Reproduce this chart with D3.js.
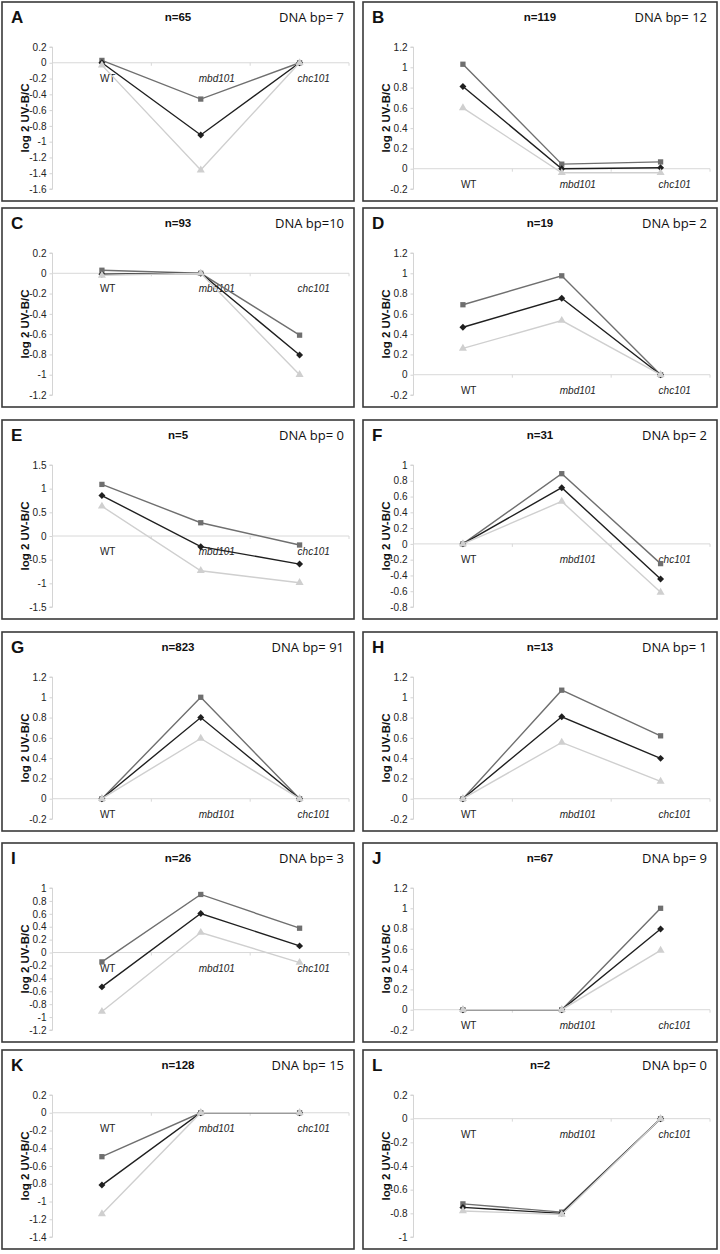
<!DOCTYPE html>
<html><head><meta charset="utf-8">
<script src="https://cdn.jsdelivr.net/npm/d3@7"></script>
<style>body{margin:0;background:#fff}svg{display:block}</style>
</head><body>
<script>
// ---- data ----
const panelLetters = ["A","B","C","D","E","F","G","H","I","J","K","L"];
const nLabels = ["n=65","n=119","n=93","n=19","n=5","n=31","n=823","n=13","n=26","n=67","n=128","n=2"];
const dnaLabels = ["DNA bp= 7","DNA bp= 12","DNA bp=10","DNA bp= 2","DNA bp= 0","DNA bp= 2","DNA bp= 91","DNA bp= 1","DNA bp= 3","DNA bp= 9","DNA bp= 15","DNA bp= 0"];
const categories = ["WT","mbd101","chc101"];
const yDomains = [[-1.6,0.2],[-0.2,1.2],[-1.2,0.2],[-0.2,1.2],[-1.5,1.5],[-0.8,1.0],[-0.2,1.2],[-0.2,1.2],[-1.2,1.0],[-0.2,1.2],[-1.4,0.2],[-1.0,0.2]];
const yStep = [0.2,0.2,0.2,0.2,0.5,0.2,0.2,0.2,0.2,0.2,0.2,0.2];
// series values per panel: [WT, mbd101, chc101]
const seriesSquare = [
  [0.03,-0.46,0.0],[1.03,0.045,0.067],[0.03,0.0,-0.61],[0.69,0.975,0.0],
  [1.09,0.28,-0.19],[0.0,0.89,-0.25],[0.0,1.0,0.0],[0.0,1.07,0.62],
  [-0.145,0.90,0.377],[0.0,0.0,1.0],[-0.495,0.0,0.0],[-0.72,-0.79,0.0]];
const seriesDiamond = [
  [0.0,-0.915,0.0],[0.81,0.0,0.01],[-0.01,0.0,-0.805],[0.468,0.754,0.0],
  [0.855,-0.226,-0.593],[0.0,0.712,-0.445],[0.0,0.80,0.0],[0.0,0.808,0.398],
  [-0.532,0.604,0.103],[0.0,0.0,0.796],[-0.815,0.0,0.0],[-0.75,-0.80,0.0]];
const seriesTriangle = [
  [-0.03,-1.36,0.0],[0.60,-0.04,-0.04],[-0.02,0.0,-1.0],[0.26,0.534,0.0],
  [0.628,-0.734,-0.988],[0.0,0.538,-0.614],[0.0,0.594,0.0],[0.0,0.555,0.171],
  [-0.914,0.31,-0.155],[0.0,0.0,0.585],[-1.14,0.0,0.0],[-0.78,-0.81,0.0]];

const seriesDefs = [
  {values: seriesSquare, color: "#6f6f6f", symbol: d3.symbolSquare, size: 28, rot: 0},
  {values: seriesDiamond, color: "#1f1f1f", symbol: d3.symbolSquare, size: 24, rot: 45},
  {values: seriesTriangle, color: "#cfcfcf", symbol: d3.symbolTriangle, size: 28, rot: 0}
];

// ---- layout ----
const W = 720, H = 1254;
const colX = [2, 363], colW = [352, 354];
const rowY = [2, 208, 420, 632, 843, 1050];
const panelH = 199;

const svg = d3.select("body").append("svg").attr("width", W).attr("height", H);
const FONT = "Liberation Sans, Arial, sans-serif";

panelLetters.forEach((letter, i) => {
  const col = i % 2, row = Math.floor(i / 2);
  const px = colX[col], py = rowY[row], pw = colW[col];
  const g = svg.append("g").attr("transform", `translate(${px},${py})`);
  g.append("rect").attr("x", 0).attr("y", 0).attr("width", pw).attr("height", panelH)
    .attr("fill", "#fff").attr("stroke", "#3a3a3a").attr("stroke-width", 1.6);

  g.append("text").attr("x", 9).attr("y", 21).attr("font-family", FONT)
    .attr("font-weight", "bold").attr("font-size", 17).attr("fill", "#111").text(letter);
  g.append("text").attr("x", pw / 2).attr("y", 19).attr("text-anchor", "middle")
    .attr("font-family", FONT).attr("font-weight", "bold").attr("font-size", 11.5).attr("fill", "#111").text(nLabels[i]);
  g.append("text").attr("x", pw - 10).attr("y", 20).attr("text-anchor", "end")
    .attr("font-family", "Open Sans, sans-serif").attr("font-size", 13).attr("fill", "#111").text(dnaLabels[i]);

  const left = 50.5, right = 347;
  const top = 45, bottom = 187;
  const x = d3.scalePoint().domain(categories).range([left, right]).padding(0.5);
  const step = x.step();
  const dom = yDomains[i];
  const y = d3.scaleLinear().domain(dom).range([bottom, top]);

  // y axis
  const nT = Math.round((dom[1] - dom[0]) / yStep[i]);
  const ticks = d3.range(nT + 1).map(k => +(dom[0] + k * yStep[i]).toFixed(2));
  const yAxis = d3.axisLeft(y).tickValues(ticks).tickSize(3).tickPadding(3)
    .tickFormat(v => String(+v.toFixed(1)));
  const ya = g.append("g").attr("transform", `translate(${left},0)`).call(yAxis);
  ya.select(".domain").attr("stroke", "#d4d4d4").attr("d", `M-3,${y(dom[1])}H0V${y(dom[0])}H-3`);
  ya.selectAll(".tick line").attr("stroke", "#d4d4d4");
  ya.selectAll(".tick text").attr("font-family", FONT).attr("font-size", 10).attr("fill", "#222");

  // x axis at zero
  const y0 = y(0);
  g.append("line").attr("x1", left).attr("x2", right).attr("y1", y0).attr("y2", y0)
    .attr("stroke", "#d8d8d8").attr("stroke-width", 1);
  d3.range(categories.length + 1).forEach(k => {
    const xx = left + k * step;
    g.append("line").attr("x1", xx).attr("x2", xx).attr("y1", y0).attr("y2", y0 + 3)
      .attr("stroke", "#d8d8d8");
  });
  categories.forEach((c, k) => {
    g.append("text").attr("x", x(c) - 2).attr("y", y0 + 19)
      .attr("font-family", FONT).attr("font-size", 10).attr("fill", "#222")
      .attr("font-style", k === 0 ? "normal" : "italic").text(c);
  });

  // y label
  g.append("text").attr("transform", `translate(27,${(top + bottom) / 2}) rotate(-90)`)
    .attr("text-anchor", "middle").attr("font-family", FONT).attr("font-weight", "bold")
    .attr("font-size", 11.5).attr("fill", "#111").text("log 2 UV-B/C");

  // series
  const line = d3.line().x((d, k) => x(categories[k])).y(d => y(d));
  seriesDefs.forEach(s => {
    const vals = s.values[i];
    g.append("path").attr("d", line(vals)).attr("fill", "none")
      .attr("stroke", s.color).attr("stroke-width", 1.4);
    vals.forEach((v, k) => {
      g.append("path").attr("d", d3.symbol().type(s.symbol).size(s.size)())
        .attr("transform", `translate(${x(categories[k])},${y(v)}) rotate(${s.rot})`)
        .attr("fill", s.color);
    });
  });
});
</script>
</body></html>
